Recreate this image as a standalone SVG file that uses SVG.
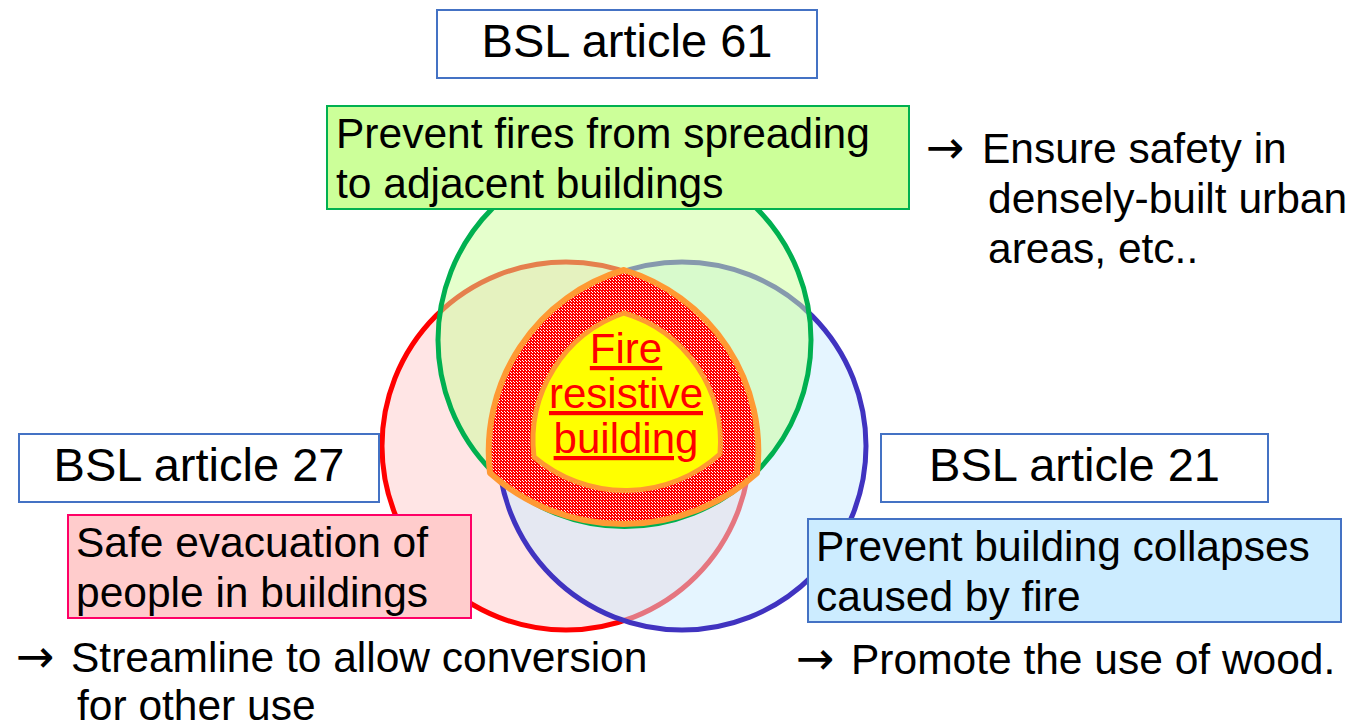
<svg xmlns="http://www.w3.org/2000/svg" width="1363" height="727" viewBox="0 0 1363 727">
<defs>
<pattern id="chk" width="3" height="3" patternUnits="userSpaceOnUse">
<rect width="3" height="3" fill="#FF0000"/>
<rect x="0" y="0" width="1" height="1" fill="#FFFFFF"/>
<rect x="1" y="1" width="1" height="1" fill="#FFFFFF"/>
</pattern>
</defs>
<style>
text { font-family: "Liberation Sans", Arial, sans-serif; fill: #000; }
.h { font-size: 47px; text-anchor: middle; }
.b { font-size: 42.5px; }
.ar { font-family: "DejaVu Sans", sans-serif; font-size: 46px; }
.hbox { fill: #FFFFFF; stroke: #4472C4; stroke-width: 2; }
.circ { fill-opacity: 0.5; stroke-width: 5; }
.core { font-size: 42px; fill: #FF0000; text-anchor: middle; text-decoration: underline; }
</style>
<rect width="1363" height="727" fill="#FFFFFF"/>

<g id="circle-27">
<circle class="circ" cx="566" cy="446" r="184" fill="#FFCCCC" stroke="#FF0000"/>
</g>
<g id="circle-21">
<circle class="circ" cx="682" cy="446" r="184" fill="#CCECFF" stroke="#4033C0"/>
</g>
<g id="circle-61">
<circle class="circ" cx="624.5" cy="340" r="186.5" fill="#CCFF99" stroke="#00B050" stroke-width="6"/>
</g>

<g id="fire-resistive-building">
<path d="M 624 270 A 189 189 0 0 0 490 473 A 200 200 0 0 0 757 473 A 189 189 0 0 0 624 270 Z" fill="url(#chk)" stroke="#FF9933" stroke-width="6" stroke-linejoin="round"/>
<path d="M 624 313 A 135 135 0 0 0 534 457 A 141 141 0 0 0 720 454 A 135 135 0 0 0 624 313 Z" fill="#FFFF00" stroke="#FF9933" stroke-width="5" stroke-linejoin="round"/>
<text class="core" x="626" y="363">Fire</text>
<text class="core" x="626" y="408">resistive</text>
<text class="core" x="626" y="453">building</text>
</g>

<g id="bsl-61">
<rect class="hbox" x="437" y="10" width="380" height="68"/>
<text class="h" x="627" y="57">BSL article 61</text>
</g>
<g id="bsl-27">
<rect class="hbox" x="19" y="434" width="360" height="68"/>
<text class="h" x="199" y="481">BSL article 27</text>
</g>
<g id="bsl-21">
<rect class="hbox" x="881" y="434" width="387" height="68"/>
<text class="h" x="1074.5" y="481">BSL article 21</text>
</g>

<g id="goal-61">
<rect x="327" y="106" width="582" height="103" fill="#CCFF99" stroke="#00B050" stroke-width="2"/>
<text class="b" x="336" y="148">Prevent fires from spreading</text>
<text class="b" x="336" y="198">to adjacent buildings</text>
</g>
<g id="goal-27">
<rect x="68" y="515" width="403" height="103" fill="#FFCCCC" stroke="#FF0066" stroke-width="2"/>
<text class="b" x="76" y="557">Safe evacuation of</text>
<text class="b" x="76" y="607">people in buildings</text>
</g>
<g id="goal-21">
<rect x="808" y="519" width="533" height="103" fill="#CCECFF" stroke="#4472C4" stroke-width="2"/>
<text class="b" x="816" y="561">Prevent building collapses</text>
<text class="b" x="816" y="611">caused by fire</text>
</g>

<g id="note-61">
<text class="b" y="163"><tspan class="ar" x="926">→</tspan><tspan x="982">Ensure safety in</tspan></text>
<text class="b" x="988" y="213">densely-built urban</text>
<text class="b" x="988" y="263">areas, etc..</text>
</g>
<g id="note-27">
<text class="b" y="672"><tspan class="ar" x="16">→</tspan><tspan x="71">Streamline to allow conversion</tspan></text>
<text class="b" x="77" y="720">for other use</text>
</g>
<g id="note-21">
<text class="b" y="674"><tspan class="ar" x="796">→</tspan><tspan x="851">Promote the use of wood.</tspan></text>
</g>

<g id="connectors"></g>
</svg>
